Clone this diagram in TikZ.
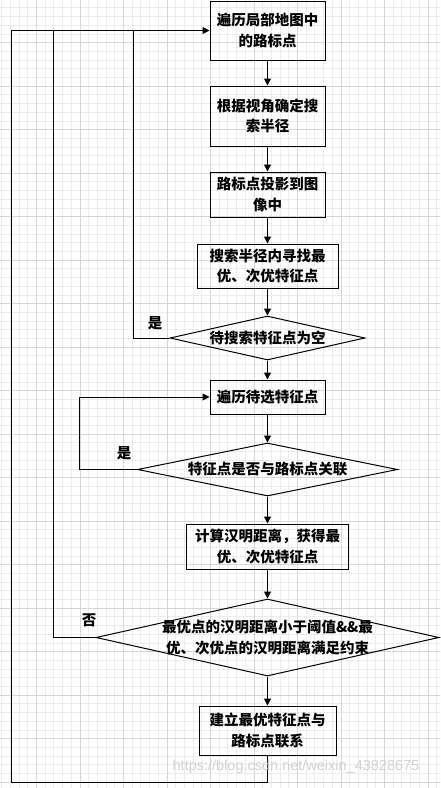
\documentclass[tikz,border=0pt]{standalone}
\usepackage{fontspec}
\setmainfont{Noto Sans CJK SC}
\newfontfamily\markfont{Liberation Sans}
\usetikzlibrary{shapes.geometric, arrows.meta}
\definecolor{gridMinor}{RGB}{236,236,236}
\definecolor{gridMajor}{RGB}{214,214,214}
\newcommand*{\xMid}{267.5}
\newcommand*{\yTop}{30.5}
\newcommand*{\xMax}{440}
\newcommand*{\yMax}{788}

\begin{document}
\begin{tikzpicture}[x=1pt, y=-1pt, line width=1pt,
	every node/.style={font=\fontsize{14.5}{20.7}\selectfont\bfseries, align=center, inner sep=0pt},
	process/.style={draw, rectangle, minimum width=#1},
	decision/.style={draw, diamond, aspect=4.4, inner sep=-8pt},
	flow/.style={-{Triangle[length=7pt, width=7pt]}}]
	\useasboundingbox (0,0) rectangle (\xMax,\yMax);
	% background grid
	\begin{scope}[shift={(36.3,-1)}, line width=0.6pt]
		\clip (-36.3,1) rectangle (403.7,789);
		\draw[step=8.7pt, color=gridMinor] (-43.5,-43.5) grid (435,826.5);
		\draw[step=43.5pt, color=gridMajor] (-43.5,-43.5) grid (435,826.5);
	\end{scope}
	
	\node[process=115pt, minimum height=59pt] (traverse) at (\xMid,30.5) {遍历局部地图中\\的路标点};
	\node[process=115pt, minimum height=60pt] (radius) at (\xMid,116) {根据视角确定搜\\索半径};
	\node[process=115pt, minimum height=45pt] (project) at (\xMid,194.5) {路标点投影到图\\像中};
	\node[process=141pt, minimum height=44pt] (search) at (\xMid,266) {搜索半径内寻找最\\优、次优特征点};
	\node[decision, minimum width=195pt, minimum height=44pt] (empty) at (\xMid,338) {待搜索特征点为空};
	\node[process=115pt, minimum height=34pt] (next) at (\xMid,397) {遍历待选特征点};
	\node[decision, minimum width=260pt, minimum height=53pt] (assoc) at (\xMid,469.5) {特征点是否与路标点关联};
	\node[process=162pt, minimum height=45pt] (hamming) at (\xMid,546.5) {计算汉明距离，获得最\\优、次优特征点};
	\node[decision, minimum width=343pt, minimum height=77pt] (judge) at (\xMid,637.5) {最优点的汉明距离小于阈值\&\&最\\优、次优点的汉明距离满足约束};
	\node[process=137pt, minimum height=49pt] (link) at (\xMid,730.5) {建立最优特征点与\\路标点联系};
	
	\draw[flow] (traverse) -- (radius);
	\draw[flow] (radius) -- (project);
	\draw[flow] (project) -- (search);
	\draw[flow] (search) -- (empty);
	\draw[flow] (empty) -- (next);
	\draw[flow] (next) -- (assoc);
	\draw[flow] (assoc) -- (hamming);
	\draw[flow] (hamming) -- (judge);
	\draw[flow] (judge) -- (link);
	
	% feedback loops
	\coordinate (loopOuter) at (11,782);
	\coordinate (loopMid) at (53,\yTop);
	\coordinate (loopInner) at (133,\yTop);
	\draw[flow] (link) |- (loopOuter) |- (traverse);
	\draw (judge) -| (loopMid);
	\draw (empty) -| (loopInner);
	\draw[flow] (assoc.west) -- ++(-58,0) |- (next);
	
	\node (yesEmpty) at (155,323) {是};
	\node (yesAssoc) at (124,453) {是};
	\node (noJudge) at (89,620) {否};
	
	\node[font=\markfont\fontsize{14.5}{16}\selectfont, text=black!18] (mark) at (296,767) {https://blog.csdn.net/weixin\_43828675};
\end{tikzpicture}
\end{document}
